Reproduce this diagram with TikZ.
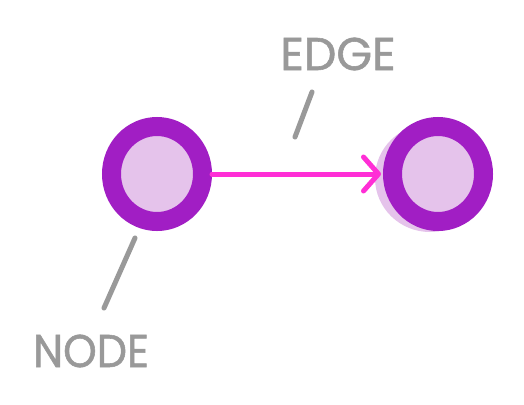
\documentclass[tikz,border=0pt]{standalone}
\usepackage{fontspec}
\newfontfamily\hand[FakeBold=1.2]{Poppins}
\usetikzlibrary{arrows.meta,shapes.geometric}
\definecolor{ring}{HTML}{A11EC4}
\definecolor{fillc}{HTML}{E5C3EB}
\definecolor{edgec}{HTML}{FF2ED6}
\definecolor{labelc}{HTML}{999999}
\tikzset{
  graphnode/.style={ellipse, draw=ring, fill=fillc, line width=19pt, minimum width=91pt, minimum height=95pt, inner sep=0pt},
  shadowblob/.style={ellipse, fill=fillc, minimum width=110pt, minimum height=108pt, inner sep=0pt},
  edgeline/.style={draw=edgec, line width=5pt, line cap=round, -{Straight Barb[length=15pt,width=34pt,round]}},
  pointer/.style={draw=labelc, line width=5pt, line cap=round},
  label/.style={text=labelc, font=\hand\fontsize{46}{50}\selectfont, inner sep=0pt}
}
\begin{document}
\begin{tikzpicture}[x=1pt,y=-1pt]
\useasboundingbox (0,0) rectangle (524,404);
\fill[white] (0,0) rectangle (524,404);
\node[shadowblob] (s2) at (430,178) {};
\node[graphnode] (n1) at (157,174) {};
\node[graphnode] (n2) at (438,174) {};
\draw[edgeline] (n1.east) -- ([xshift=-2pt]n2.west);
\node[label] (le) at (338,54) {EDGE};
\node[label, xscale=0.93] (ln) at (91,351) {NODE};
\coordinate (e1) at (312,92);
\coordinate (e2) at (295,137);
\coordinate (p1) at (135,238);
\coordinate (p2) at (104,308);
\draw[pointer] (e1) -- (e2);
\draw[pointer] (p1) -- (p2);
\end{tikzpicture}
\end{document}
